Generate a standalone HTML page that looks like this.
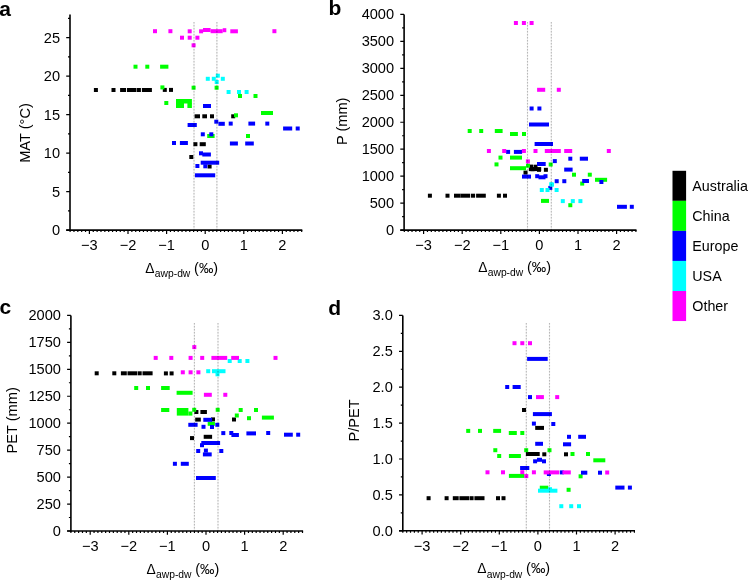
<!DOCTYPE html>
<html><head><meta charset="utf-8"><style>
html,body{margin:0;padding:0;background:#fff;}
body{width:749px;height:580px;overflow:hidden;}
svg{display:block;}
text{font-family:"Liberation Sans",sans-serif;fill:#000;}
.tl{font-size:14.6px;}
.al{font-size:14.6px;}
.xl{font-size:13.8px;}
.sub{font-size:10.3px;}
.pm{font-size:14.4px;}
.pl{font-size:21px;font-weight:bold;}
.lg{font-size:14.3px;}
.ax{stroke:#000;stroke-width:1.6;fill:none;}
.tk{stroke:#000;stroke-width:1.2;fill:none;}
.dot0{mix-blend-mode:multiply;stroke:#f0f0f0;stroke-width:1.2;fill:none;}
.dot{mix-blend-mode:multiply;stroke:#c4c4c4;stroke-width:1.1;stroke-dasharray:1.5 1.5;fill:none;}
</style></head><body>
<svg width="749" height="580" viewBox="0 0 749 580">
<rect x="93.9" y="88" width="4" height="4" fill="#000000"/>
<rect x="111.5" y="88" width="4" height="4" fill="#000000"/>
<rect x="120.1" y="88" width="5.9" height="4" fill="#000000"/>
<rect x="126.9" y="88" width="9.4" height="4" fill="#000000"/>
<rect x="136.7" y="88" width="4.2" height="4" fill="#000000"/>
<rect x="141.9" y="88" width="10" height="4" fill="#000000"/>
<rect x="162.8" y="87.9" width="4" height="4" fill="#000000"/>
<rect x="169" y="87.9" width="4" height="4" fill="#000000"/>
<rect x="231.2" y="114.3" width="4" height="4" fill="#000000"/>
<rect x="194.6" y="114.3" width="5.4" height="4" fill="#000000"/>
<rect x="202.3" y="114.3" width="4.7" height="4" fill="#000000"/>
<rect x="210" y="114.3" width="4" height="4" fill="#000000"/>
<rect x="193.4" y="142.2" width="4" height="4" fill="#000000"/>
<rect x="199.7" y="142.2" width="6.1" height="4" fill="#000000"/>
<rect x="189.3" y="155" width="4" height="4" fill="#000000"/>
<rect x="207.6" y="164.5" width="4" height="4" fill="#000000"/>
<rect x="427.9" y="193.7" width="4" height="4" fill="#000000"/>
<rect x="445.5" y="193.7" width="4" height="4" fill="#000000"/>
<rect x="496.9" y="193.7" width="4" height="4" fill="#000000"/>
<rect x="503" y="193.7" width="4" height="4" fill="#000000"/>
<rect x="454" y="193.7" width="6.4" height="4" fill="#000000"/>
<rect x="460.4" y="193.7" width="9.6" height="4" fill="#000000"/>
<rect x="470.8" y="193.7" width="4.3" height="4" fill="#000000"/>
<rect x="476.1" y="193.7" width="9.7" height="4" fill="#000000"/>
<rect x="523.5" y="170.6" width="4" height="4" fill="#000000"/>
<rect x="528.8" y="167.1" width="12.4" height="4" fill="#000000"/>
<rect x="529" y="164.6" width="4" height="4" fill="#000000"/>
<rect x="530.5" y="167.2" width="4" height="4" fill="#000000"/>
<rect x="533.5" y="164.7" width="4" height="4" fill="#000000"/>
<rect x="537" y="167.8" width="4" height="4" fill="#000000"/>
<rect x="543.9" y="167.8" width="4" height="4" fill="#000000"/>
<rect x="94.7" y="371.3" width="4" height="4" fill="#000000"/>
<rect x="112.3" y="371.3" width="4" height="4" fill="#000000"/>
<rect x="120.9" y="371.3" width="5.9" height="4" fill="#000000"/>
<rect x="127.5" y="371.3" width="9.6" height="4" fill="#000000"/>
<rect x="137.6" y="371.3" width="4.1" height="4" fill="#000000"/>
<rect x="142.5" y="371.3" width="10.1" height="4" fill="#000000"/>
<rect x="163.9" y="371.4" width="4" height="4" fill="#000000"/>
<rect x="169.6" y="371.4" width="4" height="4" fill="#000000"/>
<rect x="194.4" y="410" width="4" height="4" fill="#000000"/>
<rect x="200.4" y="410" width="6.5" height="4" fill="#000000"/>
<rect x="195.2" y="417.6" width="5.6" height="4" fill="#000000"/>
<rect x="211" y="417.4" width="4" height="4" fill="#000000"/>
<rect x="232" y="417.5" width="4" height="4" fill="#000000"/>
<rect x="190" y="436.1" width="4" height="4" fill="#000000"/>
<rect x="203.7" y="434.8" width="8.4" height="4" fill="#000000"/>
<rect x="522" y="408" width="4" height="4" fill="#000000"/>
<rect x="535.2" y="425.9" width="8.8" height="4" fill="#000000"/>
<rect x="525.9" y="452" width="13.8" height="4" fill="#000000"/>
<rect x="542.3" y="452.3" width="4" height="4" fill="#000000"/>
<rect x="564" y="452.3" width="4" height="4" fill="#000000"/>
<rect x="426.6" y="496.2" width="4" height="4" fill="#000000"/>
<rect x="444.6" y="496.2" width="4" height="4" fill="#000000"/>
<rect x="496" y="496.2" width="4" height="4" fill="#000000"/>
<rect x="501.5" y="496.2" width="4" height="4" fill="#000000"/>
<rect x="452.8" y="496.2" width="5.9" height="4" fill="#000000"/>
<rect x="459.4" y="496.2" width="9.6" height="4" fill="#000000"/>
<rect x="469.5" y="496.2" width="4.1" height="4" fill="#000000"/>
<rect x="474.4" y="496.2" width="10.1" height="4" fill="#000000"/>
<rect x="133.5" y="64.7" width="4" height="4" fill="#00ff00"/>
<rect x="145.3" y="64.7" width="4" height="4" fill="#00ff00"/>
<rect x="160.1" y="64.7" width="8.3" height="4" fill="#00ff00"/>
<rect x="160.4" y="85.4" width="4" height="4" fill="#00ff00"/>
<rect x="191.6" y="85.7" width="4" height="4" fill="#00ff00"/>
<rect x="214.6" y="85.7" width="4" height="4" fill="#00ff00"/>
<rect x="238" y="94" width="4" height="4" fill="#00ff00"/>
<rect x="253.5" y="94" width="4" height="4" fill="#00ff00"/>
<rect x="164.3" y="101" width="4" height="4" fill="#00ff00"/>
<rect x="176" y="99" width="15.9" height="4.5" fill="#00ff00"/>
<rect x="176" y="103" width="8" height="5" fill="#00ff00"/>
<rect x="187.4" y="103" width="4.5" height="5" fill="#00ff00"/>
<rect x="234" y="113.3" width="4" height="4" fill="#00ff00"/>
<rect x="261" y="111" width="12" height="4" fill="#00ff00"/>
<rect x="246" y="134" width="4" height="4" fill="#00ff00"/>
<rect x="207.2" y="134" width="7.4" height="4" fill="#00ff00"/>
<rect x="467.7" y="129" width="4" height="4" fill="#00ff00"/>
<rect x="479.2" y="129" width="4" height="4" fill="#00ff00"/>
<rect x="494.8" y="129" width="7.8" height="4" fill="#00ff00"/>
<rect x="510" y="132" width="7.9" height="4" fill="#00ff00"/>
<rect x="522" y="132" width="4" height="4" fill="#00ff00"/>
<rect x="498.5" y="155.6" width="4" height="4" fill="#00ff00"/>
<rect x="510" y="155.6" width="12" height="4" fill="#00ff00"/>
<rect x="494.5" y="162.4" width="4" height="4" fill="#00ff00"/>
<rect x="510" y="166.2" width="16.1" height="4" fill="#00ff00"/>
<rect x="526" y="163.7" width="4" height="4" fill="#00ff00"/>
<rect x="548.7" y="162.5" width="4" height="4" fill="#00ff00"/>
<rect x="572" y="172.7" width="4" height="4" fill="#00ff00"/>
<rect x="587.8" y="172.7" width="4" height="4" fill="#00ff00"/>
<rect x="595" y="177.8" width="12.1" height="4" fill="#00ff00"/>
<rect x="580.2" y="181.6" width="4" height="4" fill="#00ff00"/>
<rect x="541" y="198.9" width="8" height="4" fill="#00ff00"/>
<rect x="568.3" y="203.2" width="4" height="4" fill="#00ff00"/>
<rect x="134.2" y="386" width="4" height="4" fill="#00ff00"/>
<rect x="146" y="386" width="4" height="4" fill="#00ff00"/>
<rect x="161.1" y="386" width="8.6" height="4" fill="#00ff00"/>
<rect x="176.6" y="390.8" width="16" height="4" fill="#00ff00"/>
<rect x="161.1" y="408" width="8.2" height="4" fill="#00ff00"/>
<rect x="176.8" y="408" width="11.6" height="7.6" fill="#00ff00"/>
<rect x="188.4" y="411.5" width="4" height="4.1" fill="#00ff00"/>
<rect x="192.2" y="407.8" width="4" height="4" fill="#00ff00"/>
<rect x="215.7" y="407.8" width="4" height="4" fill="#00ff00"/>
<rect x="207.7" y="421.8" width="7.2" height="4" fill="#00ff00"/>
<rect x="238.7" y="408" width="4" height="4" fill="#00ff00"/>
<rect x="254" y="408" width="4" height="4" fill="#00ff00"/>
<rect x="234.8" y="413.5" width="4" height="4" fill="#00ff00"/>
<rect x="247" y="416.2" width="4" height="4" fill="#00ff00"/>
<rect x="261.9" y="415.6" width="12" height="4" fill="#00ff00"/>
<rect x="466.2" y="428.9" width="4" height="4" fill="#00ff00"/>
<rect x="478" y="428.9" width="4" height="4" fill="#00ff00"/>
<rect x="493.2" y="428.9" width="7.9" height="4" fill="#00ff00"/>
<rect x="508.8" y="431" width="8" height="4" fill="#00ff00"/>
<rect x="520.3" y="431" width="4" height="4" fill="#00ff00"/>
<rect x="493.3" y="448.2" width="4" height="4" fill="#00ff00"/>
<rect x="524.2" y="448.2" width="4" height="4" fill="#00ff00"/>
<rect x="547.5" y="448.2" width="4" height="4" fill="#00ff00"/>
<rect x="497.2" y="454" width="4" height="4" fill="#00ff00"/>
<rect x="508.9" y="454" width="12" height="4" fill="#00ff00"/>
<rect x="570.5" y="452" width="4" height="4" fill="#00ff00"/>
<rect x="586" y="452" width="4" height="4" fill="#00ff00"/>
<rect x="593.3" y="458.3" width="12" height="4" fill="#00ff00"/>
<rect x="508.9" y="473.9" width="15.6" height="4" fill="#00ff00"/>
<rect x="578.6" y="474.3" width="4" height="4" fill="#00ff00"/>
<rect x="539.8" y="485.7" width="8.5" height="4" fill="#00ff00"/>
<rect x="566.6" y="487.8" width="4" height="4" fill="#00ff00"/>
<rect x="203" y="104" width="8" height="4" fill="#0000ff"/>
<rect x="214.3" y="119.7" width="4" height="4" fill="#0000ff"/>
<rect x="218.4" y="121.8" width="6.4" height="4" fill="#0000ff"/>
<rect x="228.7" y="121.6" width="4" height="4" fill="#0000ff"/>
<rect x="248.4" y="121.6" width="6.7" height="4" fill="#0000ff"/>
<rect x="265.3" y="121.6" width="4" height="4" fill="#0000ff"/>
<rect x="283.1" y="126.5" width="9.1" height="4" fill="#0000ff"/>
<rect x="295.7" y="126.5" width="4" height="4" fill="#0000ff"/>
<rect x="187.6" y="123" width="9.2" height="4" fill="#0000ff"/>
<rect x="200.8" y="132.3" width="4" height="4" fill="#0000ff"/>
<rect x="209.3" y="132.3" width="4" height="4" fill="#0000ff"/>
<rect x="172" y="141" width="4" height="4" fill="#0000ff"/>
<rect x="179.9" y="141" width="8" height="4" fill="#0000ff"/>
<rect x="199" y="151.3" width="4" height="4" fill="#0000ff"/>
<rect x="202.3" y="152.5" width="8.6" height="4" fill="#0000ff"/>
<rect x="200.7" y="160.7" width="18.5" height="4" fill="#0000ff"/>
<rect x="195.4" y="164" width="4" height="4" fill="#0000ff"/>
<rect x="203.3" y="164.3" width="4" height="4" fill="#0000ff"/>
<rect x="194.9" y="173.3" width="20.3" height="4" fill="#0000ff"/>
<rect x="229.9" y="141.5" width="8" height="4" fill="#0000ff"/>
<rect x="245.2" y="141.5" width="8.6" height="4" fill="#0000ff"/>
<rect x="529.6" y="106.5" width="4" height="4" fill="#0000ff"/>
<rect x="537.4" y="106.5" width="4" height="4" fill="#0000ff"/>
<rect x="529" y="122.5" width="20" height="4" fill="#0000ff"/>
<rect x="534.6" y="142" width="18.4" height="4" fill="#0000ff"/>
<rect x="506.1" y="149.9" width="4" height="4" fill="#0000ff"/>
<rect x="513.9" y="149.9" width="8.2" height="4" fill="#0000ff"/>
<rect x="552.8" y="159.1" width="4" height="4" fill="#0000ff"/>
<rect x="537" y="162" width="8.7" height="4" fill="#0000ff"/>
<rect x="568.3" y="156.7" width="4" height="4" fill="#0000ff"/>
<rect x="579.8" y="156.7" width="8.2" height="4" fill="#0000ff"/>
<rect x="564.2" y="167.6" width="8.4" height="4" fill="#0000ff"/>
<rect x="522" y="174.6" width="9" height="4" fill="#0000ff"/>
<rect x="535.2" y="174.2" width="4" height="4" fill="#0000ff"/>
<rect x="538.5" y="175.3" width="7" height="4" fill="#0000ff"/>
<rect x="543.5" y="174.2" width="4" height="4" fill="#0000ff"/>
<rect x="554.7" y="179.2" width="4" height="4" fill="#0000ff"/>
<rect x="562.3" y="179.2" width="4" height="4" fill="#0000ff"/>
<rect x="582.2" y="179" width="6.8" height="4" fill="#0000ff"/>
<rect x="599.4" y="180" width="4" height="4" fill="#0000ff"/>
<rect x="548.3" y="185.9" width="4" height="4" fill="#0000ff"/>
<rect x="617" y="204.8" width="9.9" height="4" fill="#0000ff"/>
<rect x="629.8" y="204.8" width="4" height="4" fill="#0000ff"/>
<rect x="203.3" y="417.8" width="8.8" height="4" fill="#0000ff"/>
<rect x="188.3" y="422.8" width="9.3" height="4" fill="#0000ff"/>
<rect x="201.5" y="424.8" width="4" height="4" fill="#0000ff"/>
<rect x="210" y="425" width="4" height="4" fill="#0000ff"/>
<rect x="215.3" y="422.8" width="4" height="4" fill="#0000ff"/>
<rect x="221.3" y="431.1" width="4" height="4" fill="#0000ff"/>
<rect x="229.3" y="431" width="4" height="4" fill="#0000ff"/>
<rect x="231.4" y="433" width="7.5" height="4" fill="#0000ff"/>
<rect x="246.4" y="431.4" width="9.6" height="4" fill="#0000ff"/>
<rect x="266.2" y="431" width="4" height="4" fill="#0000ff"/>
<rect x="284" y="432.7" width="8.8" height="4" fill="#0000ff"/>
<rect x="296.2" y="432.7" width="4" height="4" fill="#0000ff"/>
<rect x="201.3" y="441" width="18.8" height="4" fill="#0000ff"/>
<rect x="200" y="443.2" width="4" height="4" fill="#0000ff"/>
<rect x="196.2" y="449" width="4" height="4" fill="#0000ff"/>
<rect x="203.9" y="448.6" width="4" height="4" fill="#0000ff"/>
<rect x="202.9" y="452.4" width="8.8" height="4" fill="#0000ff"/>
<rect x="219.3" y="449" width="4" height="4" fill="#0000ff"/>
<rect x="172.9" y="461.8" width="4" height="4" fill="#0000ff"/>
<rect x="180.8" y="461.8" width="8" height="4" fill="#0000ff"/>
<rect x="196" y="476" width="19.8" height="4" fill="#0000ff"/>
<rect x="527.1" y="356.9" width="20.6" height="4" fill="#0000ff"/>
<rect x="505.2" y="385" width="4" height="4" fill="#0000ff"/>
<rect x="512.6" y="385" width="8.1" height="4" fill="#0000ff"/>
<rect x="528" y="395.1" width="4" height="4" fill="#0000ff"/>
<rect x="532.9" y="412.1" width="19" height="4" fill="#0000ff"/>
<rect x="531.9" y="421.6" width="4" height="4" fill="#0000ff"/>
<rect x="551.3" y="422" width="4" height="4" fill="#0000ff"/>
<rect x="567" y="434.8" width="4" height="4" fill="#0000ff"/>
<rect x="578.2" y="434.8" width="7.8" height="4" fill="#0000ff"/>
<rect x="535.2" y="441.8" width="7.8" height="4" fill="#0000ff"/>
<rect x="563" y="442.3" width="8.1" height="4" fill="#0000ff"/>
<rect x="533.1" y="459.3" width="4" height="4" fill="#0000ff"/>
<rect x="537" y="457.8" width="5" height="4" fill="#0000ff"/>
<rect x="542" y="459.3" width="4" height="4" fill="#0000ff"/>
<rect x="520.1" y="466" width="9.2" height="4" fill="#0000ff"/>
<rect x="546.9" y="472" width="4" height="4" fill="#0000ff"/>
<rect x="559.8" y="470.4" width="4" height="4" fill="#0000ff"/>
<rect x="581" y="470.7" width="6.3" height="4" fill="#0000ff"/>
<rect x="598" y="470.7" width="4" height="4" fill="#0000ff"/>
<rect x="615.3" y="485.6" width="9.2" height="4" fill="#0000ff"/>
<rect x="627.9" y="485.6" width="4" height="4" fill="#0000ff"/>
<rect x="205.8" y="76.8" width="4" height="4" fill="#00ffff"/>
<rect x="211.8" y="76.8" width="4" height="4" fill="#00ffff"/>
<rect x="215.8" y="73.7" width="4" height="4" fill="#00ffff"/>
<rect x="220.8" y="76.8" width="4" height="4" fill="#00ffff"/>
<rect x="214.7" y="80" width="4" height="4" fill="#00ffff"/>
<rect x="226.6" y="90" width="4" height="4" fill="#00ffff"/>
<rect x="237" y="90" width="4" height="4" fill="#00ffff"/>
<rect x="244.6" y="90" width="4" height="4" fill="#00ffff"/>
<rect x="549.2" y="182.3" width="4" height="4" fill="#00ffff"/>
<rect x="550" y="182.6" width="4" height="4" fill="#00ffff"/>
<rect x="539.8" y="188" width="4" height="4" fill="#00ffff"/>
<rect x="545.5" y="188" width="4" height="4" fill="#00ffff"/>
<rect x="554.6" y="188" width="4" height="4" fill="#00ffff"/>
<rect x="560.8" y="199.1" width="4" height="4" fill="#00ffff"/>
<rect x="570.8" y="199.1" width="4" height="4" fill="#00ffff"/>
<rect x="578.4" y="199.1" width="4" height="4" fill="#00ffff"/>
<rect x="227.7" y="359" width="4" height="4" fill="#00ffff"/>
<rect x="237.7" y="359" width="4" height="4" fill="#00ffff"/>
<rect x="245.4" y="359" width="4" height="4" fill="#00ffff"/>
<rect x="206.2" y="369.2" width="4" height="4" fill="#00ffff"/>
<rect x="212" y="369.2" width="13.5" height="4" fill="#00ffff"/>
<rect x="215.5" y="372.3" width="4" height="4" fill="#00ffff"/>
<rect x="538" y="488.7" width="19.4" height="4" fill="#00ffff"/>
<rect x="548" y="487.2" width="4" height="4" fill="#00ffff"/>
<rect x="559.3" y="504.2" width="4" height="4" fill="#00ffff"/>
<rect x="569.2" y="504.2" width="4" height="4" fill="#00ffff"/>
<rect x="577" y="504.2" width="4" height="4" fill="#00ffff"/>
<rect x="153" y="29.2" width="4" height="4" fill="#ff00ff"/>
<rect x="168.4" y="29.2" width="4" height="4" fill="#ff00ff"/>
<rect x="187.7" y="29.3" width="4" height="4" fill="#ff00ff"/>
<rect x="199.1" y="29.3" width="4" height="4" fill="#ff00ff"/>
<rect x="203" y="28" width="7.6" height="4" fill="#ff00ff"/>
<rect x="210.6" y="29.2" width="12.1" height="4" fill="#ff00ff"/>
<rect x="222.7" y="28.2" width="3.6" height="4" fill="#ff00ff"/>
<rect x="230.3" y="29.3" width="7.6" height="4" fill="#ff00ff"/>
<rect x="272.4" y="29.2" width="4" height="4" fill="#ff00ff"/>
<rect x="180" y="35.7" width="4" height="4" fill="#ff00ff"/>
<rect x="187.7" y="35.7" width="4" height="4" fill="#ff00ff"/>
<rect x="195.4" y="35.7" width="4" height="4" fill="#ff00ff"/>
<rect x="191.6" y="43.3" width="4" height="4" fill="#ff00ff"/>
<rect x="513.9" y="21" width="4" height="4" fill="#ff00ff"/>
<rect x="521.9" y="21" width="4" height="4" fill="#ff00ff"/>
<rect x="529.6" y="21" width="4" height="4" fill="#ff00ff"/>
<rect x="537.1" y="87.8" width="8.1" height="4" fill="#ff00ff"/>
<rect x="556.8" y="87.8" width="4" height="4" fill="#ff00ff"/>
<rect x="486.9" y="149" width="4" height="4" fill="#ff00ff"/>
<rect x="502.2" y="149" width="4" height="4" fill="#ff00ff"/>
<rect x="521.9" y="149" width="4" height="4" fill="#ff00ff"/>
<rect x="533.5" y="149" width="4" height="4" fill="#ff00ff"/>
<rect x="544.8" y="149" width="16" height="4" fill="#ff00ff"/>
<rect x="564.2" y="149" width="8" height="4" fill="#ff00ff"/>
<rect x="606.8" y="149" width="4" height="4" fill="#ff00ff"/>
<rect x="525.9" y="159.4" width="4" height="4" fill="#ff00ff"/>
<rect x="192.3" y="345.1" width="4" height="4" fill="#ff00ff"/>
<rect x="153.7" y="355.9" width="4" height="4" fill="#ff00ff"/>
<rect x="169.3" y="355.9" width="4" height="4" fill="#ff00ff"/>
<rect x="188.6" y="355.9" width="4" height="4" fill="#ff00ff"/>
<rect x="200.2" y="355.9" width="4" height="4" fill="#ff00ff"/>
<rect x="211.4" y="355.9" width="15.8" height="4" fill="#ff00ff"/>
<rect x="231.2" y="355.9" width="7.8" height="4" fill="#ff00ff"/>
<rect x="273.5" y="355.9" width="4" height="4" fill="#ff00ff"/>
<rect x="180.8" y="370.3" width="4" height="4" fill="#ff00ff"/>
<rect x="188.6" y="370.3" width="4" height="4" fill="#ff00ff"/>
<rect x="196.4" y="370.3" width="4" height="4" fill="#ff00ff"/>
<rect x="203.9" y="392.8" width="7.9" height="4" fill="#ff00ff"/>
<rect x="223.3" y="392.8" width="4" height="4" fill="#ff00ff"/>
<rect x="512.5" y="341.2" width="4" height="4" fill="#ff00ff"/>
<rect x="520.3" y="341.2" width="4" height="4" fill="#ff00ff"/>
<rect x="528" y="341.2" width="4" height="4" fill="#ff00ff"/>
<rect x="536" y="395.1" width="7.9" height="4" fill="#ff00ff"/>
<rect x="555.2" y="395.1" width="4" height="4" fill="#ff00ff"/>
<rect x="485.5" y="470.3" width="4" height="4" fill="#ff00ff"/>
<rect x="501" y="470.3" width="4" height="4" fill="#ff00ff"/>
<rect x="520.3" y="470.2" width="4" height="4" fill="#ff00ff"/>
<rect x="531.9" y="470.3" width="4" height="4" fill="#ff00ff"/>
<rect x="543.7" y="470.4" width="15.5" height="4" fill="#ff00ff"/>
<rect x="562.4" y="470.4" width="8.4" height="4" fill="#ff00ff"/>
<rect x="605.2" y="470.5" width="4" height="4" fill="#ff00ff"/>
<rect x="524.3" y="474.1" width="4" height="4" fill="#ff00ff"/>
<line x1="194" y1="22" x2="194" y2="230.1" class="dot0"/>
<line x1="194" y1="22" x2="194" y2="230.1" class="dot"/>
<line x1="216.9" y1="22" x2="216.9" y2="230.1" class="dot0"/>
<line x1="216.9" y1="22" x2="216.9" y2="230.1" class="dot"/>
<line x1="527.5" y1="21.9" x2="527.5" y2="230.1" class="dot0"/>
<line x1="527.5" y1="21.9" x2="527.5" y2="230.1" class="dot"/>
<line x1="551.3" y1="21.9" x2="551.3" y2="230.1" class="dot0"/>
<line x1="551.3" y1="21.9" x2="551.3" y2="230.1" class="dot"/>
<line x1="194.4" y1="322.9" x2="194.4" y2="531" class="dot0"/>
<line x1="194.4" y1="322.9" x2="194.4" y2="531" class="dot"/>
<line x1="218" y1="322.9" x2="218" y2="531" class="dot0"/>
<line x1="218" y1="322.9" x2="218" y2="531" class="dot"/>
<line x1="526.3" y1="322.9" x2="526.3" y2="530.8" class="dot0"/>
<line x1="526.3" y1="322.9" x2="526.3" y2="530.8" class="dot"/>
<line x1="549.5" y1="322.9" x2="549.5" y2="530.8" class="dot0"/>
<line x1="549.5" y1="322.9" x2="549.5" y2="530.8" class="dot"/>
<line x1="70" y1="14.5" x2="70" y2="230.9" class="ax"/>
<line x1="66.2" y1="230.1" x2="302.3" y2="230.1" class="ax"/>
<path d="M70.1 230.1v2M73.96 230.1v2M77.82 230.1v2M81.68 230.1v2M85.54 230.1v2M89.4 230.1v3.8M93.26 230.1v2M97.12 230.1v2M100.98 230.1v2M104.84 230.1v2M108.7 230.1v2M112.56 230.1v2M116.42 230.1v2M120.28 230.1v2M124.14 230.1v2M128 230.1v3.8M131.86 230.1v2M135.72 230.1v2M139.58 230.1v2M143.44 230.1v2M147.3 230.1v2M151.16 230.1v2M155.02 230.1v2M158.88 230.1v2M162.74 230.1v2M166.6 230.1v3.8M170.46 230.1v2M174.32 230.1v2M178.18 230.1v2M182.04 230.1v2M185.9 230.1v2M189.76 230.1v2M193.62 230.1v2M197.48 230.1v2M201.34 230.1v2M205.2 230.1v3.8M209.06 230.1v2M212.92 230.1v2M216.78 230.1v2M220.64 230.1v2M224.5 230.1v2M228.36 230.1v2M232.22 230.1v2M236.08 230.1v2M239.94 230.1v2M243.8 230.1v3.8M247.66 230.1v2M251.52 230.1v2M255.38 230.1v2M259.24 230.1v2M263.1 230.1v2M266.96 230.1v2M270.82 230.1v2M274.68 230.1v2M278.54 230.1v2M282.4 230.1v3.8M286.26 230.1v2M290.12 230.1v2M293.98 230.1v2M297.84 230.1v2M301.7 230.1v2M70 230.1h-3.8M70 210.85h-2M70 191.6h-3.8M70 172.35h-2M70 153.1h-3.8M70 133.85h-2M70 114.6h-3.8M70 95.35h-2M70 76.1h-3.8M70 56.85h-2M70 37.6h-3.8M70 18.35h-2" class="tk"/>
<text x="89.4" y="250.4" class="tl" text-anchor="middle">−3</text>
<text x="128" y="250.4" class="tl" text-anchor="middle">−2</text>
<text x="166.6" y="250.4" class="tl" text-anchor="middle">−1</text>
<text x="205.2" y="250.4" class="tl" text-anchor="middle">0</text>
<text x="243.8" y="250.4" class="tl" text-anchor="middle">1</text>
<text x="282.4" y="250.4" class="tl" text-anchor="middle">2</text>
<text x="60" y="235.1" class="tl" text-anchor="end">0</text>
<text x="60" y="196.6" class="tl" text-anchor="end">5</text>
<text x="60" y="158.1" class="tl" text-anchor="end">10</text>
<text x="60" y="119.6" class="tl" text-anchor="end">15</text>
<text x="60" y="81.1" class="tl" text-anchor="end">20</text>
<text x="60" y="42.6" class="tl" text-anchor="end">25</text>
<line x1="404.1" y1="14.4" x2="404.1" y2="230.9" class="ax"/>
<line x1="400.3" y1="230.1" x2="636.5" y2="230.1" class="ax"/>
<path d="M404.3 230.1v2M408.16 230.1v2M412.02 230.1v2M415.88 230.1v2M419.74 230.1v2M423.6 230.1v3.8M427.46 230.1v2M431.32 230.1v2M435.18 230.1v2M439.04 230.1v2M442.9 230.1v2M446.76 230.1v2M450.62 230.1v2M454.48 230.1v2M458.34 230.1v2M462.2 230.1v3.8M466.06 230.1v2M469.92 230.1v2M473.78 230.1v2M477.64 230.1v2M481.5 230.1v2M485.36 230.1v2M489.22 230.1v2M493.08 230.1v2M496.94 230.1v2M500.8 230.1v3.8M504.66 230.1v2M508.52 230.1v2M512.38 230.1v2M516.24 230.1v2M520.1 230.1v2M523.96 230.1v2M527.82 230.1v2M531.68 230.1v2M535.54 230.1v2M539.4 230.1v3.8M543.26 230.1v2M547.12 230.1v2M550.98 230.1v2M554.84 230.1v2M558.7 230.1v2M562.56 230.1v2M566.42 230.1v2M570.28 230.1v2M574.14 230.1v2M578 230.1v3.8M581.86 230.1v2M585.72 230.1v2M589.58 230.1v2M593.44 230.1v2M597.3 230.1v2M601.16 230.1v2M605.02 230.1v2M608.88 230.1v2M612.74 230.1v2M616.6 230.1v3.8M620.46 230.1v2M624.32 230.1v2M628.18 230.1v2M632.04 230.1v2M635.9 230.1v2M404.1 230.1h-3.8M404.1 216.62h-2M404.1 203.14h-3.8M404.1 189.66h-2M404.1 176.18h-3.8M404.1 162.69h-2M404.1 149.21h-3.8M404.1 135.73h-2M404.1 122.25h-3.8M404.1 108.77h-2M404.1 95.29h-3.8M404.1 81.81h-2M404.1 68.33h-3.8M404.1 54.84h-2M404.1 41.36h-3.8M404.1 27.88h-2M404.1 14.4h-3.8" class="tk"/>
<text x="423.6" y="250.4" class="tl" text-anchor="middle">−3</text>
<text x="462.2" y="250.4" class="tl" text-anchor="middle">−2</text>
<text x="500.8" y="250.4" class="tl" text-anchor="middle">−1</text>
<text x="539.4" y="250.4" class="tl" text-anchor="middle">0</text>
<text x="578" y="250.4" class="tl" text-anchor="middle">1</text>
<text x="616.6" y="250.4" class="tl" text-anchor="middle">2</text>
<text x="394.1" y="235.1" class="tl" text-anchor="end">0</text>
<text x="394.1" y="208.14" class="tl" text-anchor="end">500</text>
<text x="394.1" y="181.18" class="tl" text-anchor="end">1000</text>
<text x="394.1" y="154.21" class="tl" text-anchor="end">1500</text>
<text x="394.1" y="127.25" class="tl" text-anchor="end">2000</text>
<text x="394.1" y="100.29" class="tl" text-anchor="end">2500</text>
<text x="394.1" y="73.33" class="tl" text-anchor="end">3000</text>
<text x="394.1" y="46.36" class="tl" text-anchor="end">3500</text>
<text x="394.1" y="19.4" class="tl" text-anchor="end">4000</text>
<line x1="70.9" y1="315.4" x2="70.9" y2="531.8" class="ax"/>
<line x1="67.1" y1="531" x2="303.1" y2="531" class="ax"/>
<path d="M70.9 531v2M74.76 531v2M78.62 531v2M82.48 531v2M86.34 531v2M90.2 531v3.8M94.06 531v2M97.92 531v2M101.78 531v2M105.64 531v2M109.5 531v2M113.36 531v2M117.22 531v2M121.08 531v2M124.94 531v2M128.8 531v3.8M132.66 531v2M136.52 531v2M140.38 531v2M144.24 531v2M148.1 531v2M151.96 531v2M155.82 531v2M159.68 531v2M163.54 531v2M167.4 531v3.8M171.26 531v2M175.12 531v2M178.98 531v2M182.84 531v2M186.7 531v2M190.56 531v2M194.42 531v2M198.28 531v2M202.14 531v2M206 531v3.8M209.86 531v2M213.72 531v2M217.58 531v2M221.44 531v2M225.3 531v2M229.16 531v2M233.02 531v2M236.88 531v2M240.74 531v2M244.6 531v3.8M248.46 531v2M252.32 531v2M256.18 531v2M260.04 531v2M263.9 531v2M267.76 531v2M271.62 531v2M275.48 531v2M279.34 531v2M283.2 531v3.8M287.06 531v2M290.92 531v2M294.78 531v2M298.64 531v2M302.5 531v2M70.9 531h-3.8M70.9 517.52h-2M70.9 504.05h-3.8M70.9 490.57h-2M70.9 477.1h-3.8M70.9 463.62h-2M70.9 450.15h-3.8M70.9 436.68h-2M70.9 423.2h-3.8M70.9 409.73h-2M70.9 396.25h-3.8M70.9 382.77h-2M70.9 369.3h-3.8M70.9 355.82h-2M70.9 342.35h-3.8M70.9 328.88h-2M70.9 315.4h-3.8" class="tk"/>
<text x="90.2" y="551.3" class="tl" text-anchor="middle">−3</text>
<text x="128.8" y="551.3" class="tl" text-anchor="middle">−2</text>
<text x="167.4" y="551.3" class="tl" text-anchor="middle">−1</text>
<text x="206" y="551.3" class="tl" text-anchor="middle">0</text>
<text x="244.6" y="551.3" class="tl" text-anchor="middle">1</text>
<text x="283.2" y="551.3" class="tl" text-anchor="middle">2</text>
<text x="60.9" y="536" class="tl" text-anchor="end">0</text>
<text x="60.9" y="509.05" class="tl" text-anchor="end">250</text>
<text x="60.9" y="482.1" class="tl" text-anchor="end">500</text>
<text x="60.9" y="455.15" class="tl" text-anchor="end">750</text>
<text x="60.9" y="428.2" class="tl" text-anchor="end">1000</text>
<text x="60.9" y="401.25" class="tl" text-anchor="end">1250</text>
<text x="60.9" y="374.3" class="tl" text-anchor="end">1500</text>
<text x="60.9" y="347.35" class="tl" text-anchor="end">1750</text>
<text x="60.9" y="320.4" class="tl" text-anchor="end">2000</text>
<line x1="402.8" y1="315.4" x2="402.8" y2="531.6" class="ax"/>
<line x1="399" y1="530.8" x2="635" y2="530.8" class="ax"/>
<path d="M402.8 530.8v2M406.66 530.8v2M410.52 530.8v2M414.38 530.8v2M418.24 530.8v2M422.1 530.8v3.8M425.96 530.8v2M429.82 530.8v2M433.68 530.8v2M437.54 530.8v2M441.4 530.8v2M445.26 530.8v2M449.12 530.8v2M452.98 530.8v2M456.84 530.8v2M460.7 530.8v3.8M464.56 530.8v2M468.42 530.8v2M472.28 530.8v2M476.14 530.8v2M480 530.8v2M483.86 530.8v2M487.72 530.8v2M491.58 530.8v2M495.44 530.8v2M499.3 530.8v3.8M503.16 530.8v2M507.02 530.8v2M510.88 530.8v2M514.74 530.8v2M518.6 530.8v2M522.46 530.8v2M526.32 530.8v2M530.18 530.8v2M534.04 530.8v2M537.9 530.8v3.8M541.76 530.8v2M545.62 530.8v2M549.48 530.8v2M553.34 530.8v2M557.2 530.8v2M561.06 530.8v2M564.92 530.8v2M568.78 530.8v2M572.64 530.8v2M576.5 530.8v3.8M580.36 530.8v2M584.22 530.8v2M588.08 530.8v2M591.94 530.8v2M595.8 530.8v2M599.66 530.8v2M603.52 530.8v2M607.38 530.8v2M611.24 530.8v2M615.1 530.8v3.8M618.96 530.8v2M622.82 530.8v2M626.68 530.8v2M630.54 530.8v2M634.4 530.8v2M402.8 530.8h-3.8M402.8 512.85h-2M402.8 494.9h-3.8M402.8 476.95h-2M402.8 459h-3.8M402.8 441.05h-2M402.8 423.1h-3.8M402.8 405.15h-2M402.8 387.2h-3.8M402.8 369.25h-2M402.8 351.3h-3.8M402.8 333.35h-2M402.8 315.4h-3.8" class="tk"/>
<text x="422.1" y="551.1" class="tl" text-anchor="middle">−3</text>
<text x="460.7" y="551.1" class="tl" text-anchor="middle">−2</text>
<text x="499.3" y="551.1" class="tl" text-anchor="middle">−1</text>
<text x="537.9" y="551.1" class="tl" text-anchor="middle">0</text>
<text x="576.5" y="551.1" class="tl" text-anchor="middle">1</text>
<text x="615.1" y="551.1" class="tl" text-anchor="middle">2</text>
<text x="392.8" y="535.8" class="tl" text-anchor="end">0.0</text>
<text x="392.8" y="499.9" class="tl" text-anchor="end">0.5</text>
<text x="392.8" y="464" class="tl" text-anchor="end">1.0</text>
<text x="392.8" y="428.1" class="tl" text-anchor="end">1.5</text>
<text x="392.8" y="392.2" class="tl" text-anchor="end">2.0</text>
<text x="392.8" y="356.3" class="tl" text-anchor="end">2.5</text>
<text x="392.8" y="320.4" class="tl" text-anchor="end">3.0</text>
<text class="al" text-anchor="middle" transform="translate(30.4 133) rotate(-90)">MAT (°C)</text>
<text class="al" text-anchor="middle" transform="translate(346.5 121.3) rotate(-90)">P (mm)</text>
<text class="al" text-anchor="middle" transform="translate(17.2 420.3) rotate(-90)">PET (mm)</text>
<text class="al" text-anchor="middle" transform="translate(359.3 420.5) rotate(-90)">P/PET</text>
<text class="xl" x="145.3" y="272.8">Δ<tspan class="sub" dx="0.3" dy="4.3">awp-dw</tspan><tspan class="pm" dx="-0.2" dy="-4.3"> (‰)</tspan></text>
<text class="xl" x="478.2" y="271.7">Δ<tspan class="sub" dx="0.3" dy="4.3">awp-dw</tspan><tspan class="pm" dx="-0.2" dy="-4.3"> (‰)</tspan></text>
<text class="xl" x="146.5" y="573.6">Δ<tspan class="sub" dx="0.3" dy="4.3">awp-dw</tspan><tspan class="pm" dx="-0.2" dy="-4.3"> (‰)</tspan></text>
<text class="xl" x="477.3" y="573.4">Δ<tspan class="sub" dx="0.3" dy="4.3">awp-dw</tspan><tspan class="pm" dx="-0.2" dy="-4.3"> (‰)</tspan></text>
<text class="pl" x="-0.8" y="16.2">a</text>
<text class="pl" x="328.5" y="15.4">b</text>
<text class="pl" x="-0.6" y="314.3">c</text>
<text class="pl" x="328.2" y="314.5">d</text>
<rect x="672.5" y="170.8" width="13.6" height="30.05" fill="#000000"/>
<text class="lg" x="692.3" y="190.9">Australia</text>
<rect x="672.5" y="200.85" width="13.6" height="30.05" fill="#00ff00"/>
<text class="lg" x="692.3" y="220.95">China</text>
<rect x="672.5" y="230.9" width="13.6" height="30.05" fill="#0000ff"/>
<text class="lg" x="692.3" y="251">Europe</text>
<rect x="672.5" y="260.95" width="13.6" height="30.05" fill="#00ffff"/>
<text class="lg" x="692.3" y="281.05">USA</text>
<rect x="672.5" y="291" width="13.6" height="30.05" fill="#ff00ff"/>
<text class="lg" x="692.3" y="311.1">Other</text>
</svg>
</body></html>
